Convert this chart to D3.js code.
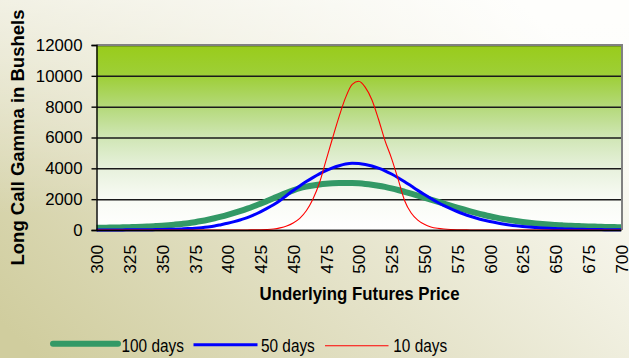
<!DOCTYPE html>
<html>
<head>
<meta charset="utf-8">
<script src="https://cdn.jsdelivr.net/npm/d3@7/dist/d3.min.js"></script>
<style>
  html, body { margin: 0; padding: 0; overflow: hidden; background: #ffffff; }
  svg { display: block; font-family: "Liberation Sans", Arial, sans-serif; }
</style>
</head>
<body>
<svg id="chart" width="629" height="358"></svg>
<script>
// Underlying futures prices (x categories)
const prices = [
  300,305,310,315,320,325,330,335,340,345,
  350,355,360,365,370,375,380,385,390,395,
  400,405,410,415,420,425,430,435,440,445,
  450,455,460,465,470,475,480,485,490,495,
  500,505,510,515,520,525,530,535,540,545,
  550,555,560,565,570,575,580,585,590,595,
  600,605,610,615,620,625,630,635,640,645,
  650,655,660,665,670,675,680,685,690,695,
  700
];

// Long call gamma (bushels), 100 days to expiry
const gamma100 = [
  145,150,157,165,175,186,199,214,232,254,
  280,312,350,392,440,505,580,665,760,865,
  980,1105,1240,1385,1540,1700,1880,2060,2240,2410,
  2570,2710,2810,2890,2950,2995,3025,3045,3050,3045,
  3025,2990,2940,2875,2795,2700,2595,2480,2360,2235,
  2105,1975,1845,1715,1585,1455,1330,1210,1095,990,
  890,800,718,645,580,522,472,428,390,357,
  328,303,282,263,247,233,220,208,197,187,
  178
];

// 50 days to expiry
const gamma50 = [
  5,5,6,7,8,10,12,15,19,25,
  32,42,55,70,90,115,150,195,255,345,
  440,545,665,800,980,1180,1400,1640,1920,2240,
  2560,2860,3140,3400,3640,3850,4030,4170,4280,4330,
  4310,4250,4150,4010,3840,3630,3390,3130,2850,2570,
  2300,2040,1800,1580,1380,1200,1040,895,765,650,
  550,465,390,328,275,230,192,160,133,111,
  92,77,64,53,44,37,31,26,22,18,
  15
];

// 10 days to expiry
const gamma10 = [
  0,0,0,0,0,0,0,0,0,0,
  0,0,0,0,0,0,0,0,0,0,
  0,1,2,4,7,14,30,65,140,260,
  460,760,1250,2000,3050,4500,5950,7350,8600,9450,
  9650,9250,8450,7200,5800,4650,3300,1900,1100,640,
  370,200,110,60,30,15,8,4,2,1,
  0,0,0,0,0,0,0,0,0,0,
  0,0,0,0,0,0,0,0,0,0,
  0
];

const seriesNames = ["100 days", "50 days", "10 days"];
const yTicks = [0, 2000, 4000, 6000, 8000, 10000, 12000];
const xTickLabels = [300,325,350,375,400,425,450,475,500,525,550,575,600,625,650,675,700];

const series = [
  { name: seriesNames[0], values: gamma100, color: "#339966", width: 6 },
  { name: seriesNames[1], values: gamma50,  color: "#0000ff", width: 3 },
  { name: seriesNames[2], values: gamma10,  color: "#ff0000", width: 1.1 }
];

const W = 629, H = 358;
const plot = { left: 96.5, right: 621, top: 45, bottom: 230 };

const svg = d3.select("#chart");
const defs = svg.append("defs");

// Page background: olive-beige on the lower left, fading to white on the right
const bg = defs.append("linearGradient").attr("id", "bgGrad")
  .attr("x1", 0).attr("y1", 0.9).attr("x2", 1).attr("y2", 0.3);
bg.append("stop").attr("offset", 0).attr("stop-color", "#d0cd9e");
bg.append("stop").attr("offset", 0.45).attr("stop-color", "#e4e2c8");
bg.append("stop").attr("offset", 1).attr("stop-color", "#fdfdf9");
const bgTop = defs.append("linearGradient").attr("id", "bgTop")
  .attr("x1", 0).attr("y1", 0).attr("x2", 0).attr("y2", 1);
bgTop.append("stop").attr("offset", 0).attr("stop-color", "#ffffff").attr("stop-opacity", 0.55);
bgTop.append("stop").attr("offset", 0.6).attr("stop-color", "#ffffff").attr("stop-opacity", 0);

svg.append("rect").attr("width", W).attr("height", H).attr("fill", "url(#bgGrad)");
svg.append("rect").attr("width", W).attr("height", H).attr("fill", "url(#bgTop)");

// Plot area fill: lime green at the top fading to white at the bottom
const pg = defs.append("linearGradient").attr("id", "plotGrad")
  .attr("x1", 0).attr("y1", 0).attr("x2", 0).attr("y2", 1);
[[0, "#99cc1a"], [0.17, "#9ecf38"], [0.335, "#b4d97a"], [0.5, "#d0e6b5"],
 [0.665, "#e7f1dc"], [0.83, "#f8fbf4"], [1, "#ffffff"]].forEach(([o, c]) =>
  pg.append("stop").attr("offset", o).attr("stop-color", c));

const x = d3.scaleLinear().domain([300, 700]).range([plot.left, plot.right]);
const y = d3.scaleLinear().domain([0, 12000]).range([plot.bottom, plot.top]);

svg.append("rect")
  .attr("x", plot.left).attr("y", plot.top)
  .attr("width", plot.right - plot.left).attr("height", plot.bottom - plot.top)
  .attr("fill", "url(#plotGrad)");

// Horizontal gridlines
svg.append("g")
  .attr("transform", `translate(${plot.left},0)`)
  .call(d3.axisLeft(y).tickValues(yTicks).tickSize(-(plot.right - plot.left)).tickFormat(""))
  .call(g => g.select(".domain").remove())
  .call(g => g.selectAll("line").attr("stroke", "#1a1a1a").attr("stroke-width", 1.5));

// Grey frame on top and right
svg.append("line").attr("x1", plot.left).attr("x2", plot.right + 1)
  .attr("y1", plot.top).attr("y2", plot.top)
  .attr("stroke", "#808080").attr("stroke-width", 2);
svg.append("line").attr("x1", plot.right + 1).attr("x2", plot.right + 1)
  .attr("y1", plot.top - 1).attr("y2", plot.bottom)
  .attr("stroke", "#808080").attr("stroke-width", 2);

// Series lines
const line = d3.line()
  .x((d, i) => x(prices[i]))
  .y(d => y(d))
  .curve(d3.curveMonotoneX);

series.forEach(s => {
  svg.append("path")
    .datum(s.values)
    .attr("fill", "none")
    .attr("stroke", s.color)
    .attr("stroke-width", s.width)
    .attr("stroke-linejoin", "round")
    .attr("stroke-linecap", "butt")
    .attr("d", line);
});

// Y axis
svg.append("g")
  .attr("transform", `translate(${plot.left},0)`)
  .call(d3.axisLeft(y).tickValues(yTicks).tickSize(5).tickPadding(9).tickFormat(d3.format("d")))
  .call(g => g.select(".domain").attr("stroke", "#000").attr("stroke-width", 1.4))
  .call(g => g.selectAll(".tick line").attr("stroke", "#000").attr("stroke-width", 1.4))
  .call(g => g.selectAll("text")
    .attr("fill", "#000")
    .style("font-family", "'Liberation Sans', Arial, sans-serif")
    .style("font-size", "16.8px"));

// X axis
svg.append("g")
  .attr("transform", `translate(0,${plot.bottom})`)
  .call(d3.axisBottom(x).tickValues(xTickLabels).tickSize(0).tickFormat(d3.format("d")))
  .call(g => g.select(".domain").attr("stroke", "#000").attr("stroke-width", 1.6))
  .call(g => g.selectAll("text")
    .attr("fill", "#000")
    .attr("text-anchor", "end")
    .attr("transform", "rotate(-90)")
    .attr("x", -15)
    .attr("y", 0)
    .attr("dy", "0.36em")
    .style("font-family", "'Liberation Sans', Arial, sans-serif")
    .style("font-size", "17.3px"));

// Axis titles
svg.append("text")
  .attr("transform", `translate(359.5,300) scale(0.91,1)`)
  .attr("text-anchor", "middle")
  .style("font-size", "18.5px").style("font-weight", "bold")
  .attr("fill", "#000")
  .text("Underlying Futures Price");

svg.append("text")
  .attr("transform", `translate(24,137.5) rotate(-90)`)
  .attr("text-anchor", "middle")
  .style("font-size", "18.5px").style("font-weight", "bold")
  .attr("fill", "#000")
  .text("Long Call Gamma in Bushels");

// Legend
const legendItems = [
  { x1: 53, x2: 118, ly: 343.7, tx: 121.5 },
  { x1: 193.5, x2: 257.5, ly: 344.7, tx: 261 },
  { x1: 325, x2: 388.5, ly: 345.7, tx: 393.3 }
];
series.forEach((s, i) => {
  const it = legendItems[i];
  svg.append("line")
    .attr("x1", it.x1).attr("x2", it.x2).attr("y1", it.ly).attr("y2", it.ly)
    .attr("stroke", s.color).attr("stroke-width", s.width)
    .attr("stroke-linecap", i === 0 ? "round" : "butt");
  svg.append("text")
    .attr("transform", `translate(${it.tx},352) scale(0.83,1)`)
    .style("font-size", "18.5px")
    .attr("fill", "#000")
    .text(s.name);
});
</script>
</body>
</html>
